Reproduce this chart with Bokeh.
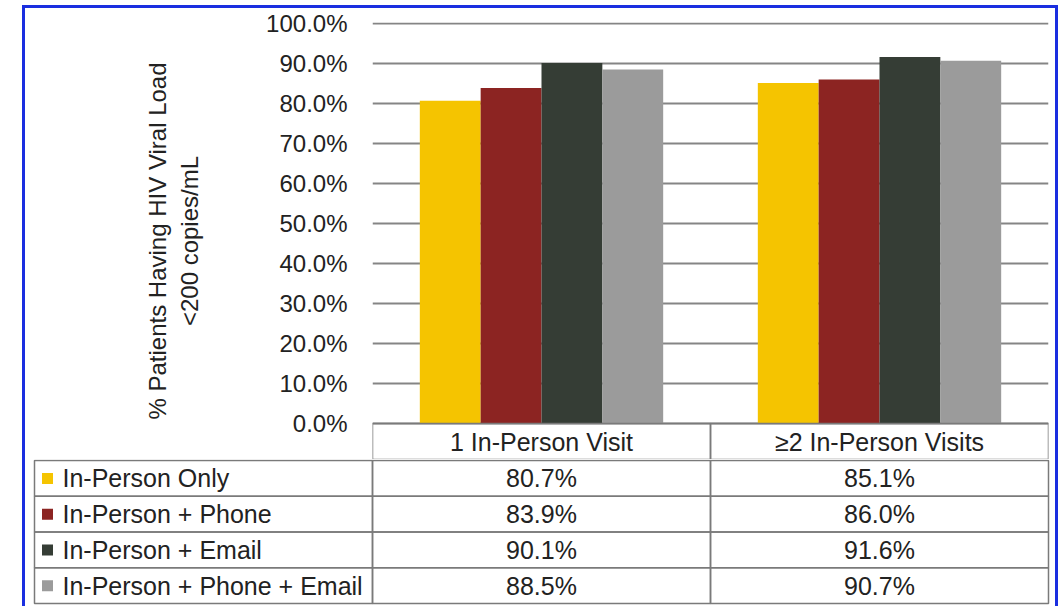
from bokeh.plotting import figure
from bokeh.models import (FactorRange, Range1d, FixedTicker, PrintfTickFormatter,
                          ColumnDataSource)
from bokeh.transform import dodge
from bokeh.layouts import column
from bokeh.core.properties import value
from bokeh.embed import file_html
from bokeh.resources import INLINE

# ---------------- data ----------------
categories = ["1 In-Person Visit", "≥2 In-Person Visits"]
series = ["In-Person Only", "In-Person + Phone", "In-Person + Email",
          "In-Person + Phone + Email"]
in_person_only = [80.7, 85.1]
in_person_phone = [83.9, 86.0]
in_person_email = [90.1, 91.6]
in_person_phone_email = [88.5, 90.7]
y_ticks = [0, 10, 20, 30, 40, 50, 60, 70, 80, 90, 100]
y_label = "% Patients Having HIV Viral Load\n<200 copies/mL"

# ---------------- style ----------------
colors = ["#F5C400", "#8C2422", "#353D35", "#9B9B9B"]
FONT = "Liberation Sans"
TEXT = "#222222"
GRID = "#858585"
CELL = "#7a7a7a"
BLUE = "#1a2fe0"

values = [in_person_only, in_person_phone, in_person_email, in_person_phone_email]

# ---------------- bar chart (with table header row below 0) ----------------
HEADER = 9  # header row height in y units (4 px per unit)
p1 = figure(x_range=FactorRange(*categories), y_range=Range1d(-HEADER, 100.25),
            width=1030, height=451, output_backend="svg", toolbar_location=None,
            min_border_left=347, min_border_right=7, min_border_top=14,
            min_border_bottom=0)
src = ColumnDataSource(dict(cat=categories, s0=values[0], s1=values[1],
                            s2=values[2], s3=values[3]))
offsets = [-0.27, -0.09, 0.09, 0.27]
for i in range(len(series)):
    p1.vbar(x=dodge("cat", offsets[i], range=p1.x_range), top=f"s{i}", width=0.18,
            source=src, fill_color=colors[i], line_color=None)

# header cells
p1.rect(x=categories, y=[-HEADER / 2] * len(categories), width=1, height=HEADER,
        fill_color=None, line_color=CELL, line_width=1.5)
p1.text(x=categories, y=[-HEADER / 2] * len(categories), text=categories,
        text_align="center", text_baseline="middle",
        text_font=value(FONT), text_font_size=value("25px"), text_color=TEXT)

p1.xaxis.visible = False
p1.xgrid.visible = False
p1.ygrid.ticker = FixedTicker(ticks=y_ticks)
p1.ygrid.grid_line_color = GRID
p1.ygrid.grid_line_width = 2
p1.outline_line_color = None

ax = p1.yaxis[0]
ax.ticker = FixedTicker(ticks=y_ticks)
ax.formatter = PrintfTickFormatter(format="%.1f%%")
ax.axis_line_color = None
ax.major_tick_line_color = None
ax.minor_tick_line_color = None
ax.major_tick_out = 0
ax.major_tick_in = 0
ax.major_label_standoff = 25
ax.major_label_text_font = FONT
ax.major_label_text_font_size = "24px"
ax.major_label_text_color = TEXT
ax.axis_label = y_label
ax.axis_label_text_font = FONT
ax.axis_label_text_font_size = "24px"
ax.axis_label_text_font_style = "normal"
ax.axis_label_text_color = TEXT
ax.axis_label_standoff = 60

# ---------------- data table rows ----------------
PX = 338.0   # pixels per category unit
ROW = 35.75  # pixels per table row
p2 = figure(x_range=Range1d(-1 - 9 / PX, 2 + 7 / PX),
            y_range=Range1d(146 / ROW, -1 / ROW),
            width=1030, height=147, output_backend="svg", toolbar_location=None,
            min_border=0)
p2.axis.visible = False
p2.grid.visible = False
p2.outline_line_color = None

for p in (p1, p2):
    try:
        p.frame_align = False
    except Exception:
        pass

left, right, top, bottom = [], [], [], []
for i in range(len(series)):
    for j in range(-1, len(categories)):
        left.append(j); right.append(j + 1); top.append(i); bottom.append(i + 1)
p2.quad(left=left, right=right, top=top, bottom=bottom, fill_color=None,
        line_color=CELL, line_width=1.5)

vx, vy, vt = [], [], []
for i, vals in enumerate(values):
    for j, v in enumerate(vals):
        vx.append(j + 0.5); vy.append(i + 0.5); vt.append(f"{v:.1f}%")
p2.text(x=vx, y=vy, text=vt, text_align="center", text_baseline="middle",
        text_font=value(FONT), text_font_size=value("25px"), text_color=TEXT)

rows_y = [i + 0.5 for i in range(len(series))]
p2.scatter(x=[-1 + 13 / PX] * len(series), y=rows_y, marker="square", size=11,
           fill_color=colors, line_color=None)
p2.text(x=[-1] * len(series), y=rows_y, text=series, x_offset=28,
        text_align="left", text_baseline="middle",
        text_font=value(FONT), text_font_size=value("25px"), text_color=TEXT)

layout = column(p1, p2, styles={
    "border-top": f"3px solid {BLUE}",
    "border-left": f"3px solid {BLUE}",
    "border-right": f"3px solid {BLUE}",
    "margin-left": "22px",
    "margin-top": "5px",
    "margin-bottom": "-10px",
})

open("out.html", "w").write(file_html(layout, INLINE))
